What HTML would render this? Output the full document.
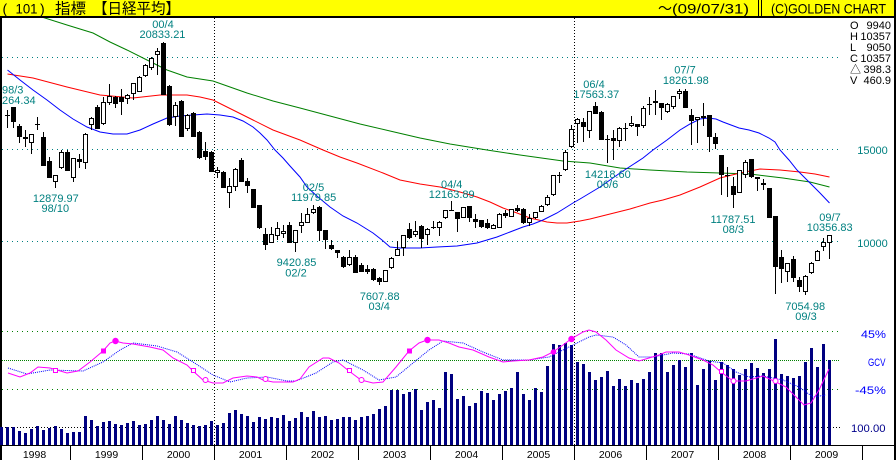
<!DOCTYPE html>
<html><head><meta charset="utf-8"><style>
html,body{margin:0;padding:0;background:#fff;width:896px;height:460px;overflow:hidden}
svg{display:block}
text{font-family:"Liberation Sans","Noto Sans CJK JP",sans-serif}
</style></head><body>
<svg width="896" height="460" viewBox="0 0 896 460" xmlns="http://www.w3.org/2000/svg">
<defs><clipPath id="pc"><rect x="2" y="18" width="838" height="427"/></clipPath></defs>
<rect x="0" y="0" width="896" height="460" fill="#fff"/>
<!-- header -->
<rect x="0" y="0" width="896" height="16" fill="#ffff00"/>
<rect x="0" y="16" width="896" height="2" fill="#000"/>
<rect x="758" y="0" width="1" height="16" fill="#000"/>
<rect x="761" y="0" width="1" height="16" fill="#000"/>
<g font-size="14" fill="#000">
<text x="2.5" y="13.5">(</text>
<text x="15.5" y="13.5" textLength="22" lengthAdjust="spacingAndGlyphs">101</text>
<text x="40" y="13.5">)</text>
<text x="55" y="13.5" font-size="15" textLength="31" lengthAdjust="spacingAndGlyphs">指標</text>
<text x="93" y="13.5" font-size="15" textLength="87" lengthAdjust="spacingAndGlyphs">【日経平均】</text>
<text x="658" y="13.5">～</text>
<text x="672" y="13.5" textLength="77" lengthAdjust="spacingAndGlyphs">(09/07/31)</text>
<text x="771" y="13.5" textLength="115" lengthAdjust="spacingAndGlyphs">(C)GOLDEN CHART</text>
</g>
<!-- borders -->
<rect x="0" y="16" width="2" height="444" fill="#000"/>
<rect x="894" y="0" width="2" height="460" fill="#000"/>
<!-- grid -->
<g fill="none" stroke-width="1">
<path d="M2 57.5H840M2 149.5H840M2 241.5H840" stroke="#008080" stroke-dasharray="1 4"/>
<path d="M2 331.5H840M2 389.5H840" stroke="#008000" stroke-dasharray="1 4"/>
<path d="M2 360.5H840" stroke="#008000" stroke-dasharray="1 1"/>
<path d="M2 427.5H840" stroke="#000" stroke-dasharray="1 2"/>
<path d="M214.5 18V445M574.5 18V445" stroke="#000" stroke-dasharray="1 2"/>
</g>
<!-- volume -->
<path fill="#000080" d="M0 427h3V445h-3z M6 427h3V445h-3z M12 427h3V445h-3z M18 431h3V445h-3z M24 433h3V445h-3z M30 429h3V445h-3z M36 426h3V445h-3z M42 430h3V445h-3z M48 428h3V445h-3z M54 426h3V445h-3z M60 429h3V445h-3z M66 433h3V445h-3z M72 432h3V445h-3z M78 432h3V445h-3z M84 416h3V445h-3z M90 420h3V445h-3z M96 426h3V445h-3z M102 422h3V445h-3z M108 421h3V445h-3z M114 424h3V445h-3z M120 425h3V445h-3z M126 423h3V445h-3z M132 421h3V445h-3z M138 425h3V445h-3z M144 424h3V445h-3z M150 420h3V445h-3z M156 416h3V445h-3z M162 420h3V445h-3z M168 424h3V445h-3z M174 416h3V445h-3z M180 420h3V445h-3z M186 423h3V445h-3z M192 425h3V445h-3z M198 426h3V445h-3z M204 425h3V445h-3z M210 421h3V445h-3z M216 425h3V445h-3z M222 423h3V445h-3z M228 413h3V445h-3z M234 410h3V445h-3z M240 414h3V445h-3z M246 416h3V445h-3z M252 422h3V445h-3z M258 417h3V445h-3z M264 419h3V445h-3z M270 417h3V445h-3z M276 418h3V445h-3z M282 415h3V445h-3z M288 421h3V445h-3z M294 418h3V445h-3z M300 412h3V445h-3z M306 417h3V445h-3z M312 411h3V445h-3z M318 417h3V445h-3z M324 416h3V445h-3z M330 420h3V445h-3z M336 419h3V445h-3z M342 417h3V445h-3z M348 417h3V445h-3z M354 420h3V445h-3z M360 417h3V445h-3z M366 416h3V445h-3z M372 414h3V445h-3z M378 409h3V445h-3z M384 406h3V445h-3z M390 390h3V445h-3z M396 390h3V445h-3z M402 394h3V445h-3z M408 392h3V445h-3z M414 389h3V445h-3z M420 410h3V445h-3z M426 402h3V445h-3z M432 400h3V445h-3z M438 408h3V445h-3z M444 372h3V445h-3z M450 374h3V445h-3z M456 399h3V445h-3z M462 396h3V445h-3z M468 406h3V445h-3z M474 403h3V445h-3z M480 391h3V445h-3z M486 393h3V445h-3z M492 400h3V445h-3z M498 394h3V445h-3z M504 391h3V445h-3z M510 388h3V445h-3z M516 372h3V445h-3z M522 394h3V445h-3z M528 400h3V445h-3z M534 388h3V445h-3z M540 392h3V445h-3z M546 366h3V445h-3z M552 344h3V445h-3z M558 345h3V445h-3z M564 343h3V445h-3z M570 345h3V445h-3z M576 362h3V445h-3z M582 364h3V445h-3z M588 372h3V445h-3z M594 380h3V445h-3z M600 377h3V445h-3z M606 371h3V445h-3z M612 386h3V445h-3z M618 379h3V445h-3z M624 386h3V445h-3z M630 380h3V445h-3z M636 383h3V445h-3z M642 379h3V445h-3z M648 372h3V445h-3z M654 353h3V445h-3z M660 353h3V445h-3z M666 372h3V445h-3z M672 365h3V445h-3z M678 360h3V445h-3z M684 367h3V445h-3z M690 353h3V445h-3z M696 385h3V445h-3z M702 369h3V445h-3z M708 361h3V445h-3z M714 380h3V445h-3z M720 362h3V445h-3z M726 365h3V445h-3z M732 369h3V445h-3z M738 375h3V445h-3z M744 369h3V445h-3z M750 363h3V445h-3z M756 368h3V445h-3z M762 373h3V445h-3z M768 369h3V445h-3z M774 339h3V445h-3z M780 374h3V445h-3z M786 376h3V445h-3z M792 378h3V445h-3z M798 376h3V445h-3z M804 362h3V445h-3z M810 348h3V445h-3z M816 367h3V445h-3z M822 344h3V445h-3z M828 360h3V445h-3z"/>
<!-- moving averages -->
<g clip-path="url(#pc)" fill="none" stroke-width="1">
<polyline stroke="#008000" points="2,5 20,11 45,18 67,25 93,33 110,42 127,50 147,60 167,70 187,77 213,81 230,87 247,93 273,101 300,108 330,116 360,124 390,131 420,138 450,144 487,150 520,155 563,161 590,163 620,168 650,170 687,172 720,173 750,174 783,178 810,182 829.5,187"/>
<polyline stroke="#ff0000" points="7.5,74 33,78 67,87 100,95 133,98 160,95 187,95 200,97 213,100 233,110 253,120 273,130 300,140 323,150 340,157 357,163 383,173 400,180 420,184 440,187 460,192 477,197 490,202 503,208 517,213 530,218 547,222 557,223 567,223 580,221 590,219 610,214 630,209 650,203 663,200 680,195 700,187 720,178 740,173 760,169 780,170 800,172 815,174 829.5,177"/>
<polyline stroke="#0000ff" points="7.5,70 20,80 33,90 47,100 60,110 73,119 87,127 100,132 113,134 127,134 140,130 153,124 167,118 180,116 193,115 207,114 220,115 233,117 243,121 253,127 260,133 267,140 275,150 283,158 290,166 300,177 307,187 318,197 330,207 343,216 357,223 365,228 373,233 382,240 390,247 400,248 420,248 437,247 457,246 477,243 497,237 510,232 523,227 533,224 543,220 557,213 565,208 573,203 580,199 590,193 600,187 620,173 643,158 653,150 667,140 680,130 690,124 700,119 708,118 716,119 723,122 731,125 739,128 749,130 759,133 769,138 775,142 780,150 789,160 797,170 803,176 810,183 820,193 829.5,203"/>
</g>
<!-- candles -->
<path fill="none" stroke="#000" stroke-width="1" d="M7.5 110V128 M13.5 107V128 M19.5 124V143 M25.5 130V147 M31.5 134V154 M37.5 117V130 M43.5 132V166 M49.5 157V178 M55.5 175V188 M61.5 150V169 M67.5 150V171 M73.5 158V182 M79.5 154V168 M85.5 133V169 M91.5 117V130 M97.5 105V129 M103.5 97V125 M109.5 84V105 M115.5 96V108 M121.5 89V115 M127.5 94V104 M133.5 83V100 M139.5 76V92 M145.5 64V77 M151.5 57V70 M157.5 48V75 M163.5 42V95 M169.5 85V126 M175.5 102V126 M181.5 100V137 M187.5 114V131 M193.5 112V137 M199.5 131V159 M205.5 142V160 M211.5 151V172 M217.5 167V178 M223.5 171V188 M229.5 178V208 M235.5 168V191 M241.5 158V182 M247.5 178V193 M253.5 189V208 M259.5 205V229 M265.5 228V250 M271.5 227V243 M277.5 222V240 M283.5 225V238 M289.5 222V243 M295.5 230V252 M301.5 213V233 M307.5 208V223 M313.5 205V214 M319.5 206V241 M325.5 230V249 M331.5 240V250 M337.5 250V258 M343.5 256V268 M349.5 250V266 M355.5 255V273 M361.5 263V272 M367.5 265V274 M373.5 268V281 M379.5 277V285 M385.5 270V282 M391.5 257V269 M397.5 241V256 M403.5 235V256 M409.5 223V239 M415.5 221V237 M421.5 225V248 M427.5 228V245 M433.5 221V229 M439.5 221V236 M445.5 210V219 M451.5 201V211 M457.5 212V232 M463.5 207V218 M469.5 206V222 M475.5 214V228 M481.5 220V228 M487.5 219V229 M493.5 224V229 M499.5 213V228 M505.5 210V218 M511.5 209V217 M517.5 205V212 M523.5 208V224 M529.5 214V226 M535.5 212V219 M541.5 205V212 M547.5 195V206 M553.5 175V196 M559.5 172V183 M565.5 150V171 M571.5 125V148 M577.5 118V143 M583.5 118V142 M589.5 111V138 M595.5 102V114 M601.5 111V140 M607.5 135V163 M613.5 130V160 M619.5 127V147 M625.5 123V141 M631.5 116V127 M637.5 124V136 M643.5 106V128 M649.5 97V115 M655.5 90V115 M661.5 103V120 M667.5 103V113 M673.5 96V109 M679.5 89V99 M685.5 89V108 M691.5 109V145 M697.5 117V143 M703.5 103V126 M709.5 115V152 M715.5 133V149 M721.5 155V195 M727.5 167V197 M733.5 177V208 M739.5 170V193 M745.5 160V178 M751.5 159V178 M757.5 177V191 M763.5 179V190 M769.5 188V218 M775.5 216V294 M781.5 250V283 M787.5 263V282 M793.5 256V282 M799.5 277V292 M805.5 275V295 M811.5 262V274 M817.5 250V261 M823.5 238V251 M829.5 235V259"/>
<path fill="#000" d="M5 115h5v1h-5z M11 107h5v15h-5z M17 126h5v11h-5z M23 137h5v2h-5z M35 124h5v1h-5z M41 137h5v29h-5z M47 161h5v17h-5z M65 152h5v19h-5z M77 159h5v3h-5z M95 107h5v22h-5z M113 97h5v7h-5z M119 97h5v5h-5z M161 43h5v52h-5z M167 86h5v39h-5z M179 101h5v36h-5z M191 113h5v24h-5z M197 132h5v26h-5z M203 151h5v6h-5z M209 152h5v20h-5z M221 172h5v16h-5z M239 160h5v22h-5z M245 181h5v5h-5z M251 189h5v19h-5z M257 205h5v23h-5z M263 234h5v11h-5z M287 225h5v18h-5z M317 207h5v24h-5z M323 230h5v10h-5z M329 245h5v4h-5z M335 250h5v3h-5z M341 257h5v10h-5z M353 257h5v16h-5z M359 265h5v7h-5z M365 269h5v3h-5z M371 269h5v11h-5z M377 278h5v4h-5z M407 229h5v9h-5z M419 226h5v13h-5z M431 227h5v1h-5z M449 210h5v1h-5z M455 212h5v7h-5z M467 206h5v12h-5z M473 219h5v3h-5z M479 220h5v7h-5z M485 223h5v5h-5z M503 213h5v3h-5z M515 208h5v3h-5z M521 209h5v14h-5z M557 175h5v1h-5z M581 122h5v5h-5z M593 106h5v8h-5z M599 112h5v28h-5z M605 139h5v1h-5z M611 138h5v3h-5z M623 128h5v1h-5z M635 124h5v3h-5z M647 104h5v1h-5z M659 103h5v5h-5z M683 91h5v17h-5z M689 115h5v6h-5z M701 116h5v2h-5z M707 115h5v22h-5z M713 137h5v7h-5z M719 155h5v20h-5z M725 175h5v1h-5z M731 186h5v9h-5z M749 159h5v18h-5z M755 177h5v2h-5z M761 183h5v2h-5z M767 188h5v30h-5z M773 216h5v51h-5z M779 257h5v12h-5z M791 259h5v19h-5z M797 280h5v7h-5z"/>
<path fill="#fff" stroke="#000" stroke-width="1" d="M29.5 134.5h4v8h-4z M53.5 175.5h4v6h-4z M59.5 152.5h4v15h-4z M71.5 158.5h4v19h-4z M83.5 134.5h4v28h-4z M89.5 118.5h4v6h-4z M101.5 102.5h4v21h-4z M107.5 96.5h4v6h-4z M125.5 95.5h4v3h-4z M131.5 83.5h4v10h-4z M137.5 77.5h4v14h-4z M143.5 65.5h4v10h-4z M149.5 58.5h4v9h-4z M155.5 51.5h4v3h-4z M173.5 105.5h4v11h-4z M185.5 115.5h4v13h-4z M215.5 170.5h4v2h-4z M227.5 186.5h4v6h-4z M233.5 169.5h4v17h-4z M269.5 234.5h4v8h-4z M275.5 228.5h4v7h-4z M281.5 231.5h4v2h-4z M293.5 230.5h4v12h-4z M299.5 222.5h4v3h-4z M305.5 214.5h4v8h-4z M311.5 209.5h4v3h-4z M347.5 257.5h4v7h-4z M383.5 270.5h4v11h-4z M389.5 258.5h4v9h-4z M395.5 249.5h4v6h-4z M401.5 235.5h4v12h-4z M413.5 231.5h4v3h-4z M425.5 229.5h4v5h-4z M437.5 222.5h4v5h-4z M443.5 210.5h4v7h-4z M461.5 207.5h4v10h-4z M491.5 225.5h4v3h-4z M497.5 214.5h4v13h-4z M509.5 209.5h4v7h-4z M527.5 218.5h4v4h-4z M533.5 212.5h4v5h-4z M539.5 206.5h4v5h-4z M545.5 197.5h4v7h-4z M551.5 175.5h4v19h-4z M563.5 152.5h4v17h-4z M569.5 129.5h4v17h-4z M575.5 119.5h4v4h-4z M587.5 111.5h4v19h-4z M617.5 128.5h4v12h-4z M629.5 123.5h4v2h-4z M641.5 108.5h4v17h-4z M653.5 101.5h4v1h-4z M665.5 104.5h4v7h-4z M671.5 96.5h4v10h-4z M677.5 91.5h4v2h-4z M695.5 117.5h4v2h-4z M737.5 170.5h4v22h-4z M743.5 162.5h4v12h-4z M785.5 263.5h4v8h-4z M803.5 276.5h4v15h-4z M809.5 263.5h4v9h-4z M815.5 251.5h4v9h-4z M821.5 242.5h4v4h-4z M827.5 235.5h4v7h-4z"/>
<!-- indicator lines -->
<g fill="none" stroke-width="1">
<polyline stroke="#0000ff" stroke-dasharray="1 1" points="8,368 27,374 50,370 83,371 103,362 120,350 133,343 157,346 177,352 193,362 213,375 230,382 247,378 267,377 287,381 296,381 316,373 333,362 343,360 363,370 379,380 396,377 413,363 429,350 443,341 463,343 483,352 503,360 529,360 549,357 569,347 589,337 596,335 613,337 626,345 639,357 653,357 673,353 689,354 709,361 723,363 736,372 749,377 763,376 783,380 799,387 813,397 826,395"/>
<polyline stroke="#ff00ff" points="8,373 20,377 30,373 38,367 50,368 57,370 67,373 78,371 90,362 103,351 110,343 115,341 123,343 133,344 150,347 163,350 173,358 187,365 193,371 203,380 213,383 223,383 233,378 247,376 257,377 263,380 273,382 293,382 300,379 309,367 323,358 329,358 339,363 349,371 361,380 373,383 383,382 396,367 409,351 419,343 427,340 439,340 449,343 459,347 473,350 489,357 503,362 513,361 529,360 543,357 553,352 563,345 571,339 583,332 589,330 596,332 606,340 616,350 629,358 639,361 649,358 659,355 666,352 679,352 689,355 703,360 713,365 721,372 733,381 746,381 763,376 774,381 786,387 796,397 804,405 811,403 819,390 829,369"/>
</g>
<!-- markers -->
<path fill="#fff" stroke="#ff00ff" stroke-width="1" d="M53.5 368.5h4v4h-4z M191.5 368.5h4v4h-4z M347.5 368.5h4v4h-4z M719.5 369.5h4v4h-4z"/>
<g fill="#fff" stroke="#ff00ff" stroke-width="1">
<circle cx="205.5" cy="380" r="2.5"/><circle cx="265.5" cy="379" r="2.5"/><circle cx="361.5" cy="380" r="2.5"/><circle cx="733.5" cy="381" r="2.5"/><circle cx="775.5" cy="381" r="2.5"/>
</g>
<g fill="#ff00ff">
<rect x="101" y="348.5" width="5" height="5"/><rect x="407" y="348.5" width="5" height="5"/>
<circle cx="115.5" cy="341" r="3.2"/><circle cx="427.5" cy="340" r="3.2"/><circle cx="571.5" cy="339" r="3.2"/>
<circle cx="553.5" cy="352" r="2.8"/>
</g>
<!-- year axis -->
<rect x="0" y="445" width="896" height="1" fill="#000"/>
<path stroke="#000" stroke-width="1" d="M70.5 446V460M142.5 446V460M214.5 446V460M286.5 446V460M358.5 446V460M430.5 446V460M502.5 446V460M574.5 446V460M646.5 446V460M718.5 446V460M790.5 446V460M862.5 446V460"/>
<g font-size="10.5" fill="#000" text-anchor="middle">
<text x="34.5" y="458">1998</text><text x="106.5" y="458">1999</text><text x="178.5" y="458">2000</text><text x="250.5" y="458">2001</text><text x="322.5" y="458">2002</text><text x="394.5" y="458">2003</text><text x="466.5" y="458">2004</text><text x="538.5" y="458">2005</text><text x="610.5" y="458">2006</text><text x="682.5" y="458">2007</text><text x="754.5" y="458">2008</text><text x="826.5" y="458">2009</text>
</g>
<!-- teal labels -->
<g font-size="11" fill="#008080" text-anchor="middle">
<text x="163" y="28">00/4</text><text x="162.5" y="38">20833.21</text>
<text x="55.8" y="202">12879.97</text><text x="55.3" y="212">98/10</text>
<text x="313.5" y="191">02/5</text><text x="313.7" y="201">11979.85</text>
<text x="296.5" y="266">9420.85</text><text x="296" y="276.5">02/2</text>
<text x="451.7" y="188">04/4</text><text x="451.7" y="198">12163.89</text>
<text x="379.7" y="300">7607.88</text><text x="379.2" y="310">03/4</text>
<text x="594" y="88">06/4</text><text x="596.3" y="98">17563.37</text>
<text x="607.8" y="178">14218.60</text><text x="607.5" y="188">06/6</text>
<text x="685" y="73.5">07/7</text><text x="685.8" y="84">18261.98</text>
<text x="733" y="223">11787.51</text><text x="733.3" y="233">08/3</text>
<text x="830" y="221">09/7</text><text x="829.7" y="231">10356.83</text>
<text x="805.2" y="310">7054.98</text><text x="806" y="320">09/3</text>
<text x="872.5" y="154">15000</text><text x="872.5" y="247">10000</text>
</g>
<g font-size="11" fill="#008080">
<text x="2" y="93.5">98/3</text><text x="2" y="104">264.34</text>
</g>
<!-- indicator labels -->
<g font-size="11" fill="#0000ff">
<text x="861" y="338" textLength="25" lengthAdjust="spacingAndGlyphs">45%</text>
<text x="868" y="366" textLength="17.5" lengthAdjust="spacingAndGlyphs">GCV</text>
<text x="855" y="394" textLength="31" lengthAdjust="spacingAndGlyphs">-45%</text>
<text x="851" y="432" fill="#00008b" textLength="34.5" lengthAdjust="spacingAndGlyphs">100.00</text>
</g>
<!-- info -->
<g font-size="11" fill="#000">
<text x="850" y="29">O</text><text x="891" y="29" text-anchor="end">9940</text>
<text x="850" y="40">H</text><text x="891" y="40" text-anchor="end">10357</text>
<text x="850" y="51">L</text><text x="891" y="51" text-anchor="end">9050</text>
<text x="850" y="62">C</text><text x="891" y="62" text-anchor="end">10357</text>
<text x="850" y="73">△</text><text x="891" y="73" text-anchor="end">398.3</text>
<text x="850" y="84">V</text><text x="891" y="84" text-anchor="end">460.9</text>
</g>
</svg>
</body></html>
